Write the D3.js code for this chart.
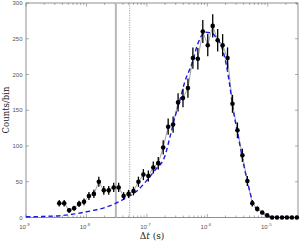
<!DOCTYPE html>
<html>
<head>
<meta charset="utf-8">
<script src="https://cdn.jsdelivr.net/npm/d3@7"></script>
<style>
  html, body { margin: 0; padding: 0; background: #fff; }
  svg { display: block; }
</style>
</head>
<body>
<svg id="chart"></svg>
<script>
// bin centres, log10 of delta t in seconds
const logDt = [-8.45, -8.368, -8.286, -8.204, -8.122, -8.04, -7.959, -7.877, -7.795, -7.713,
  -7.631, -7.549, -7.467, -7.385, -7.303, -7.222, -7.14, -7.058, -6.976, -6.894,
  -6.812, -6.73, -6.648, -6.566, -6.484, -6.403, -6.321, -6.239, -6.157, -6.075,
  -5.993, -5.911, -5.829, -5.747, -5.666, -5.584, -5.502, -5.42, -5.338, -5.256,
  -5.174, -5.092, -5.01, -4.929, -4.847, -4.765, -4.683, -4.601, -4.519]
const counts = [20, 20, 10, 13, 19, 22, 30, 33, 50, 38,
  38, 42, 42, 30, 33, 37, 50, 60, 58, 70,
  76, 98, 127, 130, 161, 167, 181, 223, 222, 260,
  241, 268, 248, 241, 223, 159, 122, 87, 51, 20,
  12, 7, 3, 0, 0, 0, 0, 0, 0]
const errs = [4.5, 4.5, 3.2, 3.6, 4.4, 4.7, 5.5, 5.7, 7.1, 6.2,
  6.2, 6.5, 6.5, 5.5, 5.7, 6.1, 7.1, 7.7, 7.6, 8.4,
  8.7, 9.9, 11.3, 11.4, 12.7, 12.9, 13.5, 14.9, 14.9, 16.1,
  15.5, 16.4, 15.7, 15.5, 14.9, 12.6, 11, 9.3, 7.1, 4.5,
  3.5, 2.6, 1.7, 0, 0, 0, 0, 0, 0]

// fitted curve
const fitLogDt = [-9, -8.686, -8.438, -8.19, -7.942, -7.694, -7.512, -7.331, -7.165, -7.0,
  -6.868, -6.702, -6.62, -6.537, -6.455, -6.372, -6.256, -6.157, -6.041, -5.926,
  -5.843, -5.76, -5.678, -5.628, -5.579, -5.496, -5.413, -5.331, -5.215, -5.083,
  -4.967, -4.8, -4.5]
const fitCounts = [1, 1.5, 2.5, 5, 9, 14, 20, 28, 37, 52,
  66, 86, 112, 140, 164, 190, 215, 243, 259, 258,
  250, 238, 210, 184, 154, 117, 80, 48, 15, 6,
  1, 0.3, 0]

const markerLines = [3.07e-8, 5.2e-8]   // solid, dotted
const xDecades = [1e-9, 1e-8, 1e-7, 1e-6, 1e-5]
const xDecadeLabels = ['-9', '-8', '-7', '-6', '-5']
const yTicks = [0, 50, 100, 150, 200, 250, 300]

const W = 301, H = 242
const mLeft = 26, mRight = 298, mTop = 3, mBottom = 217.5

const svg = d3.select('#chart').attr('width', W).attr('height', H)

const x = d3.scaleLog().domain([1e-9, Math.pow(10, -4.5)]).range([mLeft, mRight])
const y = d3.scaleLinear().domain([0, 300]).range([mBottom, mTop])

const g = svg.append('g')

// minor + major ticks on bottom/top (inward)
const minorTicks = x.ticks().filter(t => !xDecades.some(d => Math.abs(d - t) / d < 1e-6))
const axisCol = '#777'

g.selectAll('.xminb').data(minorTicks).join('line')
  .attr('x1', d => x(d)).attr('x2', d => x(d))
  .attr('y1', mBottom).attr('y2', mBottom - 2)
  .attr('stroke', axisCol).attr('stroke-width', 0.6)
g.selectAll('.xmint').data(minorTicks).join('line')
  .attr('x1', d => x(d)).attr('x2', d => x(d))
  .attr('y1', mTop).attr('y2', mTop + 2)
  .attr('stroke', axisCol).attr('stroke-width', 0.6)
g.selectAll('.xmajb').data(xDecades).join('line')
  .attr('x1', d => x(d)).attr('x2', d => x(d))
  .attr('y1', mBottom).attr('y2', mBottom - 3.5)
  .attr('stroke', axisCol).attr('stroke-width', 0.6)
g.selectAll('.xmajt').data(xDecades).join('line')
  .attr('x1', d => x(d)).attr('x2', d => x(d))
  .attr('y1', mTop).attr('y2', mTop + 3.5)
  .attr('stroke', axisCol).attr('stroke-width', 0.6)

// y ticks left/right
g.selectAll('.yl').data(yTicks).join('line')
  .attr('x1', mLeft).attr('x2', mLeft + 3)
  .attr('y1', d => y(d)).attr('y2', d => y(d))
  .attr('stroke', axisCol).attr('stroke-width', 0.6)
g.selectAll('.yr').data(yTicks).join('line')
  .attr('x1', mRight).attr('x2', mRight - 3)
  .attr('y1', d => y(d)).attr('y2', d => y(d))
  .attr('stroke', axisCol).attr('stroke-width', 0.6)

// box
g.append('rect')
  .attr('x', mLeft).attr('y', mTop)
  .attr('width', mRight - mLeft).attr('height', mBottom - mTop)
  .attr('fill', 'none').attr('stroke', axisCol).attr('stroke-width', 0.8)

// tick labels
g.selectAll('.ylab').data(yTicks).join('text')
  .attr('x', mLeft - 3.5).attr('y', d => y(d) + 2)
  .attr('text-anchor', 'end')
  .attr('font-family', 'Liberation Sans, Arial, sans-serif')
  .attr('font-size', 6).attr('fill', '#555')
  .text(d => d)

const xl = g.selectAll('.xlab').data(xDecades).join('text')
  .attr('x', d => x(d) - 1.5).attr('y', mBottom + 11)
  .attr('text-anchor', 'middle')
  .attr('font-family', 'Liberation Sans, Arial, sans-serif')
  .attr('font-size', 6).attr('fill', '#555')
xl.append('tspan').text('10')
xl.append('tspan').attr('dy', -2.8).attr('font-size', 4.3).text((d, i) => xDecadeLabels[i])

// axis titles
svg.append('text')
  .attr('transform', `translate(9, 110) rotate(-90)`)
  .attr('text-anchor', 'middle')
  .attr('font-family', 'DejaVu Serif, serif')
  .attr('font-size', 8.5).attr('fill', '#222')
  .text('Counts/bin')

const xt = svg.append('text')
  .attr('x', 152).attr('y', 238.5)
  .attr('text-anchor', 'middle')
  .attr('font-family', 'DejaVu Serif, serif')
  .attr('font-size', 9).attr('fill', '#222')
xt.append('tspan').text('Δ')
xt.append('tspan').attr('font-style', 'italic').text('t')
xt.append('tspan').text(' (s)')

// vertical marker lines
g.append('line')
  .attr('x1', x(markerLines[0])).attr('x2', x(markerLines[0]))
  .attr('y1', mTop).attr('y2', mBottom)
  .attr('stroke', '#b8b8b8').attr('stroke-width', 2)
g.append('line')
  .attr('x1', x(markerLines[1])).attr('x2', x(markerLines[1]))
  .attr('y1', mTop).attr('y2', mBottom)
  .attr('stroke', '#999').attr('stroke-width', 0.9)
  .attr('stroke-dasharray', '1.2,1.2')

const pts = logDt.map((l, i) => ({ t: Math.pow(10, l), c: counts[i], e: errs[i] }))
const fit = fitLogDt.map((l, i) => ({ t: Math.pow(10, l), c: fitCounts[i] }))

// gray connecting line
g.append('path').datum(pts)
  .attr('d', d3.line().x(d => x(d.t)).y(d => y(d.c)))
  .attr('fill', 'none').attr('stroke', '#888').attr('stroke-width', 0.8)

// fit
g.append('path').datum(fit)
  .attr('d', d3.line().x(d => x(d.t)).y(d => y(d.c)).curve(d3.curveMonotoneX))
  .attr('fill', 'none').attr('stroke', '#1a1ae6').attr('stroke-width', 1.4)
  .attr('stroke-dasharray', '4.5,3')

// error bars
g.selectAll('.err').data(pts.filter(d => d.e > 0)).join('line')
  .attr('x1', d => x(d.t)).attr('x2', d => x(d.t))
  .attr('y1', d => y(d.c - d.e)).attr('y2', d => y(d.c + d.e))
  .attr('stroke', '#000').attr('stroke-width', 1.3)

// points
g.selectAll('.pt').data(pts).join('circle')
  .attr('cx', d => x(d.t)).attr('cy', d => y(d.c))
  .attr('r', 2.3).attr('fill', '#000')
</script>
</body>
</html>
